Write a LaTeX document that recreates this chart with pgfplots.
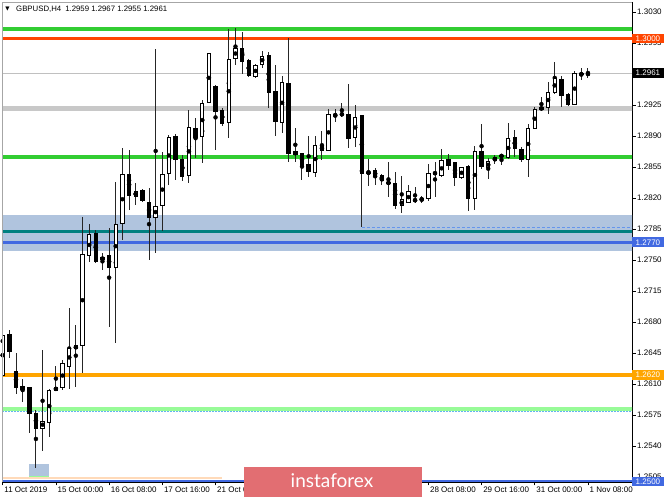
\documentclass[border=0pt]{standalone}
\usepackage{pgfplots}
\pgfplotsset{compat=1.18}
\usepackage{pgfplotstable}
\usepackage{fontspec}
\setmainfont{Liberation Sans}
\newfontfamily\symfont{DejaVu Sans}
\newfontfamily\logofont{Lato}

\definecolor{lvlgreen}{RGB}{50,205,50}
\definecolor{lvlred}{RGB}{255,69,0}
\definecolor{lvlsilver}{RGB}{200,200,200}
\definecolor{bidline}{RGB}{192,192,192}
\definecolor{zoneblue}{RGB}{176,196,222}
\definecolor{lvlteal}{RGB}{0,128,128}
\definecolor{royal}{RGB}{65,105,225}
\definecolor{lvlorange}{RGB}{255,165,0}
\definecolor{palegreen}{RGB}{152,251,152}
\definecolor{skydots}{RGB}{100,180,240}
\definecolor{cornflower}{RGB}{100,149,237}
\definecolor{peach}{RGB}{255,218,185}
\definecolor{logored}{RGB}{226,110,114}

% GBPUSD H4 candles: index, open, high, low, close
\pgfplotstableread{
i O H L C
0 1.2620 1.2705 1.2612 1.2665
1 1.2666 1.2671 1.2639 1.2647
2 1.2624 1.2645 1.2599 1.2606
3 1.2604 1.2616 1.2590 1.2607
4 1.2606 1.2607 1.2555 1.2577
5 1.2577 1.2581 1.2515 1.2560
6 1.2560 1.2648 1.2534 1.2568
7 1.2567 1.2604 1.2550 1.2603
8 1.2603 1.2630 1.2602 1.2606
9 1.2606 1.2637 1.2603 1.2633
10 1.2630 1.2696 1.2604 1.2650
11 1.2650 1.2677 1.2607 1.2653
12 1.2653 1.2799 1.2622 1.2756
13 1.2755 1.2791 1.2748 1.2779
14 1.2780 1.2784 1.2747 1.2748
15 1.2750 1.2758 1.2739 1.2753
16 1.2755 1.2786 1.2674 1.2741
17 1.2741 1.2838 1.2656 1.2790
18 1.2791 1.2876 1.2773 1.2846
19 1.2847 1.2874 1.2806 1.2823
20 1.2822 1.2837 1.2812 1.2827
21 1.2828 1.2830 1.2815 1.2817
22 1.2815 1.2831 1.2750 1.2798
23 1.2798 1.2988 1.2758 1.2810
24 1.2812 1.2872 1.2783 1.2847
25 1.2848 1.2891 1.2835 1.2888
26 1.2889 1.2892 1.2840 1.2863
27 1.2864 1.2869 1.2839 1.2844
28 1.2845 1.2919 1.2837 1.2900
29 1.2899 1.2910 1.2865 1.2888
30 1.2889 1.2931 1.2860 1.2927
31 1.2928 1.2984 1.2927 1.2983
32 1.2946 1.2948 1.2874 1.2918
33 1.2919 1.2922 1.2901 1.2904
34 1.2905 1.3011 1.2888 1.2976
35 1.2977 1.3012 1.2970 1.2989
36 1.2989 1.3007 1.2960 1.2974
37 1.2975 1.2977 1.2957 1.2958
38 1.2957 1.2971 1.2956 1.2970
39 1.2971 1.2986 1.2967 1.2980
40 1.2981 1.2985 1.2922 1.2939
41 1.2940 1.2970 1.2890 1.2906
42 1.2905 1.2958 1.2893 1.2950
43 1.2949 1.3000 1.2861 1.2870
44 1.2872 1.2899 1.2861 1.2869
45 1.2870 1.2871 1.2840 1.2857
46 1.2858 1.2890 1.2844 1.2850
47 1.2849 1.2890 1.2844 1.2879
48 1.2879 1.2896 1.2863 1.2873
49 1.2874 1.2920 1.2873 1.2914
50 1.2913 1.2920 1.2906 1.2914
51 1.2915 1.2927 1.2911 1.2914
52 1.2914 1.2949 1.2876 1.2887
53 1.2888 1.2925 1.2878 1.2911
54 1.2913 1.2914 1.2787 1.2848
55 1.2848 1.2864 1.2834 1.2849
56 1.2851 1.2854 1.2835 1.2844
57 1.2845 1.2847 1.2835 1.2840
58 1.2838 1.2861 1.2821 1.2836
59 1.2836 1.2849 1.2808 1.2812
60 1.2811 1.2845 1.2803 1.2818
61 1.2815 1.2835 1.2814 1.2827
62 1.2817 1.2832 1.2814 1.2818
63 1.2818 1.2822 1.2814 1.2819
64 1.2819 1.2858 1.2817 1.2848
65 1.2849 1.2861 1.2821 1.2847
66 1.2845 1.2875 1.2844 1.2862
67 1.2863 1.2870 1.2852 1.2857
68 1.2860 1.2861 1.2834 1.2843
69 1.2843 1.2855 1.2841 1.2854
70 1.2856 1.2857 1.2805 1.2819
71 1.2819 1.2879 1.2806 1.2873
72 1.2872 1.2904 1.2853 1.2855
73 1.2854 1.2865 1.2841 1.2861
74 1.2862 1.2869 1.2858 1.2866
75 1.2867 1.2869 1.2857 1.2868
76 1.2866 1.2905 1.2864 1.2887
77 1.2888 1.2897 1.2866 1.2876
78 1.2875 1.2878 1.2860 1.2863
79 1.2863 1.2904 1.2844 1.2899
80 1.2899 1.2923 1.2898 1.2920
81 1.2920 1.2934 1.2918 1.2922
82 1.2922 1.2951 1.2915 1.2939
83 1.2939 1.2974 1.2937 1.2955
84 1.2954 1.2958 1.2923 1.2936
85 1.2937 1.2939 1.2924 1.2925
86 1.2926 1.2963 1.2925 1.2961
87 1.2960 1.2967 1.2953 1.2959
88 1.2959 1.2967 1.2955 1.2961
}\candles

\tikzset{
  pricebox/.style={anchor=west, text=white, inner xsep=3.5bp, inner ysep=0pt,
    minimum height=9.5bp, text height=5.8bp, text depth=0pt,
    font=\fontsize{8bp}{9bp}\selectfont},
  level/.style={line width=#1},
}

\begin{document}
\begin{tikzpicture}[x=1bp,y=1bp]
\path[use as bounding box] (0,0) rectangle (665,499);
\begin{axis}[
  at={(2bp,17bp)}, anchor=south west,
  scale only axis, width=630bp, height=480bp,
  xmin=-0.105, xmax=94.62,
  ymin=1.24993, ymax=1.30412,
  clip mode=individual,
  axis x line*=bottom, axis y line*=right,
  axis line style={black, line width=0.8bp},
  tick align=outside, major tick length=3.5bp,
  tick style={black, line width=0.6bp},
  xtick={0,8,16,24,32,40,48,56,64,72,80,88},
  % labels for ticks 40, 48 and 56 sit under the watermark
  xticklabels={11 Oct 2019,15 Oct 00:00,16 Oct 08:00,17 Oct 16:00,21 Oct 00:00,,,,28 Oct 08:00,29 Oct 16:00,31 Oct 00:00,1 Nov 08:00},
  xticklabel style={anchor=north west, inner xsep=1.5bp, inner ysep=1bp,
    font=\fontsize{8bp}{9bp}\selectfont},
  ytick={1.2505,1.2540,1.2575,1.2610,1.2645,1.2680,1.2715,1.2750,1.2785,1.2820,1.2855,1.2890,1.2925,1.2960,1.2995,1.3030},
  yticklabels={1.2505,1.2540,1.2575,1.2610,1.2645,1.2680,1.2715,1.2750,1.2785,1.2820,1.2855,1.2890,1.2925,1.2960,1.2995,1.3030},
  yticklabel style={anchor=west, inner xsep=1.5bp,
    font=\fontsize{8bp}{9bp}\selectfont},
]
% support / resistance zone
\addplot[draw=none, fill=zoneblue, forget plot]
  coordinates {(-1,1.27605) (100,1.27605) (100,1.28008) (-1,1.28008)} -- cycle;
% small marked area near the October low
\addplot[draw=none, fill=zoneblue, forget plot]
  coordinates {(3.95,1.2505) (6.96,1.2505) (6.96,1.2520) (3.95,1.2520)} -- cycle;
\addplot[palegreen, level=2bp] coordinates {(3.95,1.25045) (6.96,1.25045)};
\addplot[peach, level=2bp] coordinates {(-1,1.25033) (33,1.25033)};

% horizontal levels
\addplot[lvlgreen, level=4bp] coordinates {(-1,1.3011) (100,1.3011)};
\addplot[lvlred, level=3.3bp] coordinates {(-1,1.3000) (100,1.3000)};
\addplot[bidline, level=1bp] coordinates {(-1,1.2961) (100,1.2961)};
\addplot[lvlsilver, level=4.5bp] coordinates {(-1,1.2921) (100,1.2921)};
\addplot[lvlgreen, level=4.5bp] coordinates {(-1,1.2866) (100,1.2866)};
\addplot[lvlteal, level=3.5bp] coordinates {(-1,1.2782) (100,1.2782)};
\addplot[royal, level=3.3bp] coordinates {(-1,1.2770) (100,1.2770)};
\addplot[lvlorange, level=3.8bp] coordinates {(-1,1.2620) (100,1.2620)};
\addplot[palegreen, level=4bp] coordinates {(-1,1.25817) (100,1.25817)};
\addplot[skydots, level=1bp, dash pattern=on 1.5bp off 1.5bp] coordinates {(-1,1.25784) (100,1.25784)};
\addplot[royal, level=3bp] coordinates {(-1,1.2500) (100,1.2500)};
\addplot[cornflower, level=0.8bp, dash pattern=on 3bp off 2bp] coordinates {(54,1.2787) (100,1.2787)};

% wicks
\addplot[only marks, mark=none, forget plot,
  error bars/.cd, y dir=both, y explicit, error mark=none,
  error bar style={black!85, line width=1bp}]
  table[x=i, y expr={(\thisrow{H}+\thisrow{L})/2},
    y error expr={(\thisrow{H}-\thisrow{L})/2}] {\candles};
% bodies: black outline / bearish fill
\addplot[only marks, mark=none, forget plot,
  error bars/.cd, y dir=both, y explicit, error mark=none,
  error bar style={black, line width=4.4bp, line cap=butt}]
  table[x=i, y expr={(\thisrow{O}+\thisrow{C})/2},
    y error expr={abs(\thisrow{C}-\thisrow{O})/2+0.0000565}] {\candles};
% bodies: bullish white fill
\addplot[only marks, mark=none, forget plot,
  error bars/.cd, y dir=both, y explicit, error mark=none,
  error bar style={white, line width=2.4bp, line cap=butt}]
  table[x=i, y expr={(\thisrow{O}+\thisrow{C})/2},
    y error expr={\thisrow{C}>\thisrow{O} ? max((\thisrow{C}-\thisrow{O})/2-0.0000565,0) : 0}] {\candles};

% chart border on the left and top
\draw[gray!70, line width=0.8bp] (rel axis cs:0,0) -- (rel axis cs:0,1) -- (rel axis cs:1,1);

% price tags on the price scale
\node[pricebox, fill=lvlred]    at ({rel axis cs:1,0} |- {axis cs:0,1.3000}) {1.3000};
\node[pricebox, fill=black]     at ({rel axis cs:1,0} |- {axis cs:0,1.2961}) {1.2961};
\node[pricebox, fill=royal]     at ({rel axis cs:1,0} |- {axis cs:0,1.2770}) {1.2770};
\node[pricebox, fill=lvlorange] at ({rel axis cs:1,0} |- {axis cs:0,1.2620}) {1.2620};
\node[pricebox, fill=royal]     at ({rel axis cs:1,0} |- {axis cs:0,1.2500}) {1.2500};
\end{axis}

% symbol header
\node[anchor=center, inner sep=0] at (7.5,490) {\symfont\fontsize{5.5bp}{6bp}\selectfont ▼};
\node[anchor=west, inner sep=0, font=\fontsize{7.8bp}{9bp}\selectfont] at (16,490)
  {GBPUSD,H4\hspace{4bp}1.2959 1.2967 1.2955 1.2961};

% watermark
\fill[logored] (244,2) rectangle (422,32);
\node[anchor=base, inner sep=0, text=white, font=\logofont\fontsize{19bp}{20bp}\selectfont]
  at (332,11) {instaforex};
\end{tikzpicture}
\end{document}
